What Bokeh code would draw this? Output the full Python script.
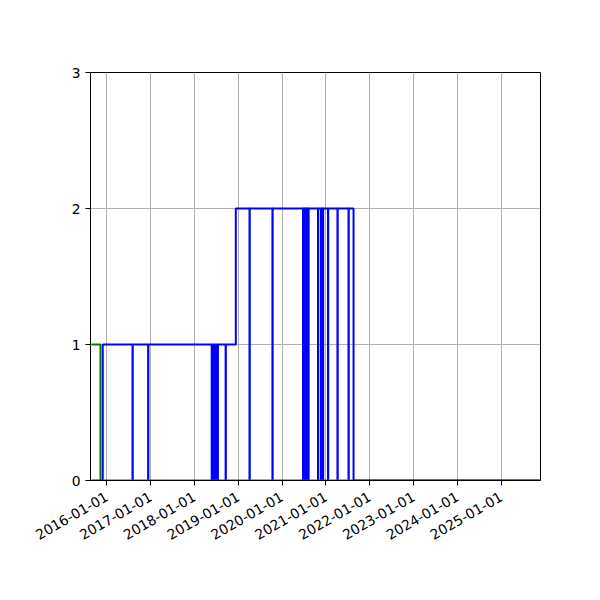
import pandas as pd
from math import pi
from bokeh.plotting import figure
from bokeh.models import FixedTicker, DatetimeTickFormatter, Range1d
from bokeh.embed import file_html
from bokeh.resources import INLINE

# green series: on for a short while, then off to the end
green_dates = ["2015-08-28", "2015-11-10", "2025-11-24"]
green_values = [1, 0, 0]

# blue series: level changes
level_dates = ["2015-08-28", "2015-11-29", "2018-12-12", "2021-08-19", "2025-11-24"]
level_values = [0, 1, 2, 0, 0]

# blue series: short drops to zero
dip_dates = ["2016-08-03", "2016-12-11",
             "2018-05-25", "2018-06-04", "2018-06-14", "2018-06-24", "2018-07-04",
             "2018-07-14", "2018-09-18",
             "2019-04-05", "2019-10-13",
             "2020-06-24", "2020-07-03", "2020-07-12", "2020-07-21", "2020-07-30",
             "2020-08-08", "2020-10-27", "2020-11-21", "2020-12-07",
             "2021-01-18", "2021-04-07", "2021-07-08"]

tick_dates = ["2016-01-01", "2017-01-01", "2018-01-01", "2019-01-01", "2020-01-01",
              "2021-01-01", "2022-01-01", "2023-01-01", "2024-01-01", "2025-01-01"]
y_ticks = [0, 1, 2, 3]

x_start, x_end = "2015-08-19", "2025-11-24"


def ms(s):
    return pd.Timestamp(s).value / 1e6


# build the blue step path
lv = pd.Series(level_values, index=pd.to_datetime(level_dates))
pts = list(zip(pd.to_datetime(level_dates), level_values))
for d in pd.to_datetime(dip_dates):
    cur = lv[lv.index <= d].iloc[-1]
    pts.append((d, 0))
    pts.append((d + pd.Timedelta(days=2), cur))
pts.sort(key=lambda t: t[0])
blue_x = [t[0] for t in pts]
blue_y = [t[1] for t in pts]

p = figure(width=592, height=592, x_axis_type="datetime",
           x_range=Range1d(ms(x_start), ms(x_end)),
           y_range=Range1d(0, 3),
           output_backend="svg", toolbar_location=None,
           min_border_left=90, min_border_top=72,
           min_border_right=52, min_border_bottom=112)

p.step(blue_x, blue_y, mode="after", line_color="#0000ff", line_width=2)
p.step(pd.to_datetime(green_dates), green_values, mode="after",
       line_color="#008000", line_width=2)

p.xaxis.ticker = FixedTicker(ticks=[ms(t) for t in tick_dates])
fmt = "%Y-%m-%d"
p.xaxis.formatter = DatetimeTickFormatter(years=fmt, months=fmt, days=fmt, hours=fmt,
                                          minutes=fmt, seconds=fmt, milliseconds=fmt,
                                          microseconds=fmt, hourmin=fmt, minsec=fmt)
p.xaxis.major_label_orientation = pi / 6
p.xaxis.major_label_standoff = 10
p.yaxis.ticker = FixedTicker(ticks=y_ticks)

for ax in (p.xaxis, p.yaxis):
    ax.major_label_text_font = "DejaVu Sans"
    ax.major_label_text_font_size = "13.9px"
    ax.major_label_text_color = "black"
    ax.axis_line_color = "black"
    ax.major_tick_line_color = "black"
    ax.major_tick_in = 0
    ax.major_tick_out = 5
    ax.minor_tick_line_color = None

p.grid.grid_line_color = "#b0b0b0"
p.grid.grid_line_width = 1
p.outline_line_color = "black"
p.outline_line_width = 1
p.background_fill_color = "white"
p.border_fill_color = "white"

open("out.html", "w").write(file_html(p, INLINE))
